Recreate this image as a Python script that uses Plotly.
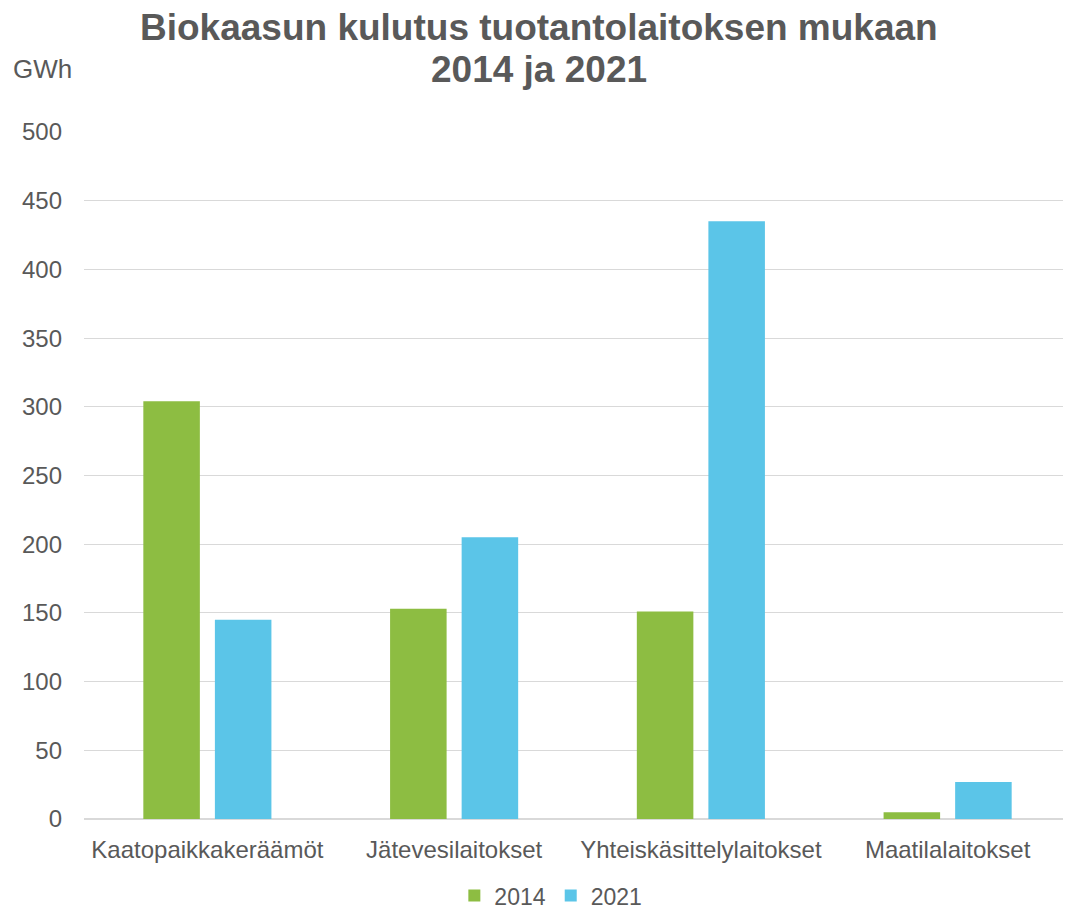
import plotly.graph_objects as go

categories = ["Kaatopaikkakeräämöt", "Jätevesilaitokset", "Yhteiskäsittelylaitokset", "Maatilalaitokset"]
values_2014 = [304, 153, 151, 5]
values_2021 = [145, 205, 435, 27]
series_names = ["2014", "2021"]
y_ticks = [0, 50, 100, 150, 200, 250, 300, 350, 400, 450, 500]
title_lines = ["Biokaasun kulutus tuotantolaitoksen mukaan", "2014 ja 2021"]

TEXT = "#595959"
FONT = "Liberation Sans, Arial, sans-serif"

fig = go.Figure()
fig.add_trace(go.Bar(name=series_names[0], x=categories, y=values_2014,
                     marker=dict(color="#8DBD42", line=dict(width=0))))
fig.add_trace(go.Bar(name=series_names[1], x=categories, y=values_2021,
                     marker=dict(color="#5BC5E8", line=dict(width=0))))

fig.update_layout(
    width=1063, height=902,
    paper_bgcolor="white", plot_bgcolor="white",
    margin=dict(l=76, r=0, t=124, b=91, autoexpand=False),
    barmode="group", bargap=0.42, bargroupgap=0.21,
    font=dict(family=FONT, size=24, color=TEXT),
    showlegend=True,
    legend=dict(orientation="h", x=0.473, xanchor="center", y=-0.1115, yanchor="middle",
                font=dict(size=23, color=TEXT), itemwidth=30, traceorder="normal",
                bgcolor="rgba(0,0,0,0)"),
    annotations=[
        dict(text="<b>" + title_lines[0] + "</b>",
             xref="paper", yref="paper", x=0.4605, y=1.1528, xanchor="center", yanchor="middle",
             showarrow=False, font=dict(family=FONT, size=37, color=TEXT)),
        dict(text="<b>" + title_lines[1] + "</b>",
             xref="paper", yref="paper", x=0.4605, y=1.0917, xanchor="center", yanchor="middle",
             showarrow=False, font=dict(family=FONT, size=37, color=TEXT)),
        dict(text="GWh", xref="paper", yref="paper", x=-0.074, y=1.0917,
             xanchor="left", yanchor="middle", showarrow=False,
             font=dict(size=26, color=TEXT)),
    ],
)
fig.update_yaxes(range=[0, 500], tickvals=y_ticks, showgrid=True, gridcolor="#D9D9D9",
                 gridwidth=1.3, zeroline=True, zerolinecolor="#D9D9D9", zerolinewidth=1.5,
                 showline=False, ticks="", ticklabelstandoff=21,
                 tickfont=dict(size=24, color=TEXT))
fig.update_xaxes(showline=False, ticks="", ticklabelstandoff=14,
                 tickfont=dict(size=24, color=TEXT))

fig.write_html("out.html")
